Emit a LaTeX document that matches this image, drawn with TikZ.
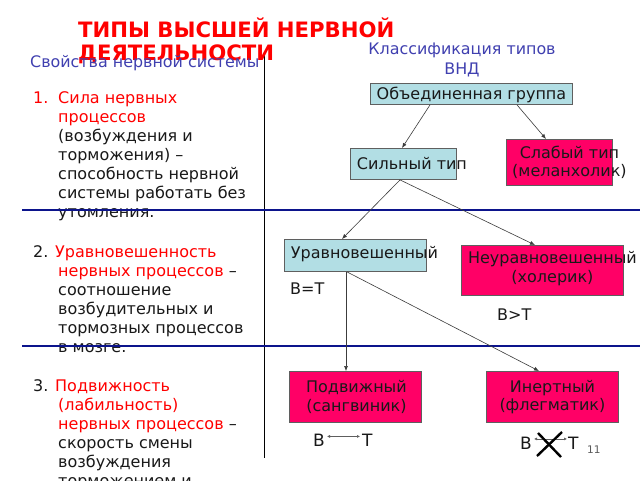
\documentclass[tikz,border=0pt]{standalone}
\usepackage{fontspec}
\setmainfont{DejaVu Sans}
\usetikzlibrary{arrows.meta,calc}
\definecolor{ttlred}{RGB}{255,0,0}
\definecolor{hdblue}{RGB}{64,64,176}
\definecolor{lineblue}{RGB}{12,20,140}
\definecolor{lbfill}{RGB}{178,222,228}
\definecolor{pkfill}{RGB}{255,0,102}
\definecolor{bordgray}{RGB}{95,95,95}
\definecolor{txt}{RGB}{25,25,25}
\definecolor{pgnum}{RGB}{90,90,90}
\begin{document}
\begin{tikzpicture}[x=1pt,y=-1pt,
  lt/.style={inner sep=0pt, anchor=base west, font=\fontsize{16}{19}\selectfont, text=txt},
  red/.style={text=ttlred},
  ttl/.style={inner sep=0pt, anchor=base west, font=\fontsize{21.2}{25}\selectfont\bfseries, text=ttlred},
  hd/.style={inner sep=0pt, font=\fontsize{15.9}{19}\selectfont, text=hdblue},
  boxbase/.style={draw=bordgray, line width=0.9pt, inner sep=0pt, anchor=north west},
  lbox/.style={boxbase, fill=lbfill},
  pbox/.style={boxbase, fill=pkfill},
  btxt/.style={inner sep=0pt, align=center, font=\fontsize{16}{18.5}\selectfont, text=txt},
  conn/.style={draw=txt!85, line width=0.6pt, -{Latex[length=5pt,width=4pt]}},
  sep/.style={draw=lineblue, line width=2.6pt},
  vt/.style={inner sep=0pt, anchor=base west, font=\fontsize{17}{20}\selectfont, text=txt},
  dbl/.style={draw=txt!70, line width=0.5pt, {Latex[length=3pt,width=3pt]}-{Latex[length=3pt,width=3pt]}}
]
\useasboundingbox[fill=white] (0,0) rectangle (640,480);

% vertical divider
\coordinate (vtop) at (264,55);
\coordinate (vbot) at (264,458);
\draw[line width=0.8pt, black] (vtop) -- (vbot);

% title
\node[ttl] (t1) at (78,37) {ТИПЫ ВЫСШЕЙ НЕРВНОЙ};
\node[ttl] (t2) at (78,60) {ДЕЯТЕЛЬНОСТИ};

% headers
\node[hd, anchor=base west] (h1) at (30,67) {Свойства нервной системы};
\node[hd, anchor=base] (h2) at (462,54) {Классификация типов};
\node[hd, anchor=base] (h3) at (462,74) {ВНД};

% left list
\node[lt, red] (n1) at (33,103) {1.};
\node[lt, red] (a1) at (58,103) {Сила нервных};
\node[lt, red] (a2) at (58,122) {процессов};
\node[lt] (a3) at (58,141) {(возбуждения и};
\node[lt] (a4) at (58,160) {торможения) –};
\node[lt] (a5) at (58,179) {способность нервной};
\node[lt] (a6) at (58,198) {системы работать без};
\node[lt] (a7) at (58,217) {утомления.};

\node[lt] (n2) at (33,257) {2.};
\node[lt, red] (b1) at (55,257) {Уравновешенность};
\node[lt] (b2) at (58,276) {\textcolor{ttlred}{нервных процессов} –};
\node[lt] (b3) at (58,295) {соотношение};
\node[lt] (b4) at (58,314) {возбудительных и};
\node[lt] (b5) at (58,333) {тормозных процессов};
\node[lt] (b6) at (58,352) {в мозге.};

\node[lt] (n3) at (33,391) {3.};
\node[lt, red] (c1) at (55,391) {Подвижность};
\node[lt, red] (c2) at (58,410) {(лабильность)};
\node[lt] (c3) at (58,429) {\textcolor{ttlred}{нервных процессов} –};
\node[lt] (c4) at (58,448) {скорость смены};
\node[lt] (c5) at (58,467) {возбуждения};
\node[lt] (c6) at (58,486) {торможением и};

% separators
\coordinate (s1l) at (22,210);
\coordinate (s1r) at (640,210);
\coordinate (s2l) at (22,346);
\coordinate (s2r) at (640,346);
\draw[sep] (s1l) -- (s1r);
\draw[sep] (s2l) -- (s2r);

% boxes
\node[lbox, minimum width=202pt, minimum height=21pt] (obj) at (370,83) {};
\node[btxt] (objt) at ($(obj.center)+(0,0.5)$) {Объединенная группа};

\node[lbox, minimum width=106pt, minimum height=31pt] (sil) at (350,148) {};
\node[btxt] (silt) at ($(sil.center)+(8.5,0)$) {Сильный тип};

\node[pbox, minimum width=106pt, minimum height=46pt] (slab) at (506,139) {};
\node[btxt] (slabt) at ($(slab.center)+(10,0)$) {Слабый тип\\(меланхолик)};

\node[lbox, minimum width=142pt, minimum height=32pt] (urav) at (284,239) {};
\node[btxt] (uravt) at ($(urav.center)+(9,-1)$) {Уравновешенный};

\node[pbox, minimum width=162pt, minimum height=50pt] (neur) at (461,245) {};
\node[btxt] (neurt) at ($(neur.center)+(10,-2)$) {Неуравновешенный\\(холерик)};

\node[pbox, minimum width=132pt, minimum height=51pt] (podv) at (289,371) {};
\node[btxt] (podvt) at ($(podv.center)+(1,0)$) {Подвижный\\(сангвиник)};

\node[pbox, minimum width=132pt, minimum height=51pt] (inert) at (486,371) {};
\node[btxt] (inertt) at (inert.center) {Инертный\\(флегматик)};

% relation labels
\node[lt] (eq) at (290,294) {В=Т};
\node[lt] (gt) at (497,320) {В>Т};

% connectors
\draw[conn] ([xshift=60pt]obj.south west) -- ([xshift=52pt]sil.north west);
\draw[conn] ([xshift=147pt]obj.south west) -- ([xshift=40pt]slab.north west);
\draw[conn] ([xshift=50pt]sil.south west) -- ([xshift=58pt]urav.north west);
\draw[conn] ([xshift=50pt]sil.south west) -- ([xshift=74pt]neur.north west);
\draw[conn] ([xshift=62pt]urav.south west) -- ([xshift=57pt]podv.north west);
\draw[conn] ([xshift=63pt]urav.south west) -- ([xshift=53pt]inert.north west);

% B <-> T
\node[vt] (bl) at (313,446) {В};
\node[vt] (tl) at (362,446) {Т};
\draw[dbl] ([xshift=2pt,yshift=-3pt]bl.north east) -- ([xshift=-2pt,yshift=-3pt]tl.north west);

\node[vt] (br) at (520,449) {В};
\node[vt] (tr) at (568,449) {Т};
\draw[dbl] ([xshift=2pt,yshift=-2.5pt]br.north east) -- ([xshift=-1pt,yshift=-2.5pt]tr.north west);
\coordinate (x1) at (538,433);
\coordinate (x2) at (561,457);
\coordinate (x3) at (562,432);
\coordinate (x4) at (537,456);
\draw[line width=2.4pt, black] (x1) -- (x2);
\draw[line width=2.4pt, black] (x3) -- (x4);

\node[inner sep=0pt, anchor=base west, font=\fontsize{10.5}{12}\selectfont, text=pgnum] (pg) at (587,453) {11};
\end{tikzpicture}
\end{document}
